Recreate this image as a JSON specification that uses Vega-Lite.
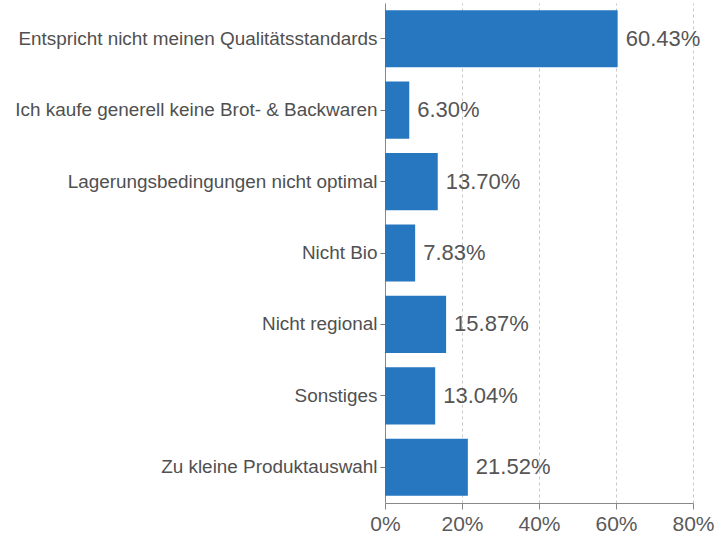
{
  "$schema": "https://vega.github.io/schema/vega-lite/v6.json",
  "width": 308,
  "height": 500,
  "autosize": {"type": "none"},
  "padding": {"left": 385, "top": 3, "right": 25, "bottom": 33},
  "background": "white",
  "config": {"view": {"stroke": null}, "font": "Liberation Sans"},
  "data": {"values": [
    {"reason": "Entspricht nicht meinen Qualitätsstandards", "value": 60.43},
    {"reason": "Ich kaufe generell keine Brot- & Backwaren", "value": 6.30},
    {"reason": "Lagerungsbedingungen nicht optimal", "value": 13.70},
    {"reason": "Nicht Bio", "value": 7.83},
    {"reason": "Nicht regional", "value": 15.87},
    {"reason": "Sonstiges", "value": 13.04},
    {"reason": "Zu kleine Produktauswahl", "value": 21.52}
  ]},
  "encoding": {
    "y": {"field": "reason", "type": "nominal", "sort": null,
      "scale": {"paddingInner": 0.2, "paddingOuter": 0.1},
      "axis": {"title": null, "labelFontSize": 18.9, "labelColor": "#505050", "labelLimit": 400,
        "tickColor": "#777", "domainColor": "#888", "tickSize": 5, "labelPadding": 3}},
    "x": {"field": "value", "type": "quantitative",
      "scale": {"domain": [0, 80]},
      "axis": {"title": null, "values": [0, 20, 40, 60, 80], "labelExpr": "datum.value + '%'",
        "labelFontSize": 21, "labelColor": "#5a5a5a", "labelFlush": false, "labelBound": false, "grid": true, "gridDash": [3, 3],
        "gridColor": "#c8c8c8", "domainColor": "#888", "tickColor": "#888", "tickSize": 6, "labelPadding": 4}}
  },
  "layer": [
    {"mark": {"type": "bar", "color": "#2677C0"}},
    {"transform": [{"calculate": "format(datum.value, '.2f') + '%'", "as": "lbl"}],
     "mark": {"type": "text", "align": "left", "dx": 8, "fontSize": 22, "color": "#555"},
     "encoding": {"text": {"field": "lbl", "type": "nominal"}}}
  ]
}
